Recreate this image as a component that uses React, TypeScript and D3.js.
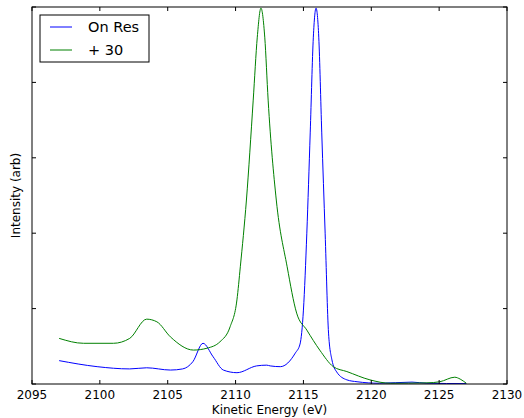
import React from "react";
import * as d3 from "d3";

const xTicks = [2095, 2100, 2105, 2110, 2115, 2120, 2125, 2130];
const yTicks = [0, 20, 40, 60, 80, 100];

const onResE = [2097.0, 2099.8, 2102.2, 2103.45, 2105.2, 2106.1, 2106.85, 2107.6, 2108.35, 2109.1, 2110.1, 2111.55, 2112.3, 2112.55, 2113.3, 2114.4, 2114.75, 2115.0, 2115.25, 2115.5, 2115.73, 2115.93, 2116.13, 2116.35, 2116.6, 2116.85, 2117.1, 2117.45, 2118.2, 2118.95, 2120.6, 2123.0, 2124.1, 2127.0];
const onResI = [6.2, 4.6, 4.0, 4.3, 3.7, 4.0, 5.9, 10.8, 7.2, 3.7, 3.0, 4.8, 5.0, 4.8, 4.6, 8.2, 10.6, 19.6, 40, 66.6, 92, 99.7, 92, 66.6, 40, 13.5, 6.4, 3.2, 1.1, 0.6, 0.2, 0.5, 0.2, 0.1];

const plus30E = [2097.0, 2098.8, 2101.0, 2102.2, 2103.45, 2104.2, 2105.2, 2106.9, 2107.9, 2108.85, 2109.6, 2110.1, 2110.35, 2110.8, 2111.3, 2111.6, 2111.87, 2112.15, 2112.4, 2113.0, 2113.8, 2114.5, 2115.25, 2116.2, 2117.2, 2118.2, 2119.9, 2121.4, 2124.1, 2125.05, 2126.15, 2126.55, 2127.0];
const plus30I = [12.1, 10.8, 10.8, 12.1, 17.2, 16.5, 12.5, 9.0, 9.5, 11.2, 15.2, 22.3, 31.1, 48.8, 75.3, 92, 99.7, 92, 75.3, 48.8, 31.1, 18.8, 14.3, 9.0, 4.6, 3.3, 1.1, 0.2, 0.3, 0.6, 1.8, 1.3, 0.2];

const seriesNames = ["On Res", "+ 30"];
const seriesColors = ["#0000ff", "#008000"];

export default function App() {
  const W = 524, H = 418;
  const L = 32, R = 507, T = 7, B = 384;
  const x = d3.scaleLinear().domain([2095, 2130]).range([L, R]);
  const y = d3.scaleLinear().domain([0, 100]).range([B, T]);
  const line = d3
    .line<[number, number]>()
    .x((d) => x(d[0]))
    .y((d) => y(d[1]))
    .curve(d3.curveMonotoneX);
  const s1 = onResE.map((e, i) => [e, onResI[i]] as [number, number]);
  const s2 = plus30E.map((e, i) => [e, plus30I[i]] as [number, number]);
  const font = "DejaVu Sans, sans-serif";
  const tk = 4;
  return (
    <svg width={W} height={H} style={{ position: "absolute", left: 0, top: 0, background: "#fff" }}>
      <rect x={0} y={0} width={W} height={H} fill="#fff" />
      <defs>
        <clipPath id="plot">
          <rect x={L} y={T} width={R - L} height={B - T} />
        </clipPath>
      </defs>
      <g clipPath="url(#plot)" fill="none" strokeWidth={1}>
        <path d={line(s1) || ""} stroke={seriesColors[0]} />
        <path d={line(s2) || ""} stroke={seriesColors[1]} />
      </g>
      <rect x={L} y={T} width={R - L} height={B - T} fill="none" stroke="#000" strokeWidth={1} />
      {xTicks.map((t) => (
        <g key={"x" + t}>
          <line x1={x(t)} x2={x(t)} y1={B} y2={B - tk} stroke="#000" />
          <line x1={x(t)} x2={x(t)} y1={T} y2={T + tk} stroke="#000" />
          <text x={x(t)} y={399} textAnchor="middle" fontFamily={font} fontSize={12}>
            {t}
          </text>
        </g>
      ))}
      {yTicks.map((t) => (
        <g key={"y" + t}>
          <line x1={L} x2={L + tk} y1={y(t)} y2={y(t)} stroke="#000" />
          <line x1={R} x2={R - tk} y1={y(t)} y2={y(t)} stroke="#000" />
        </g>
      ))}
      <text x={(L + R) / 2} y={414} textAnchor="middle" fontFamily={font} fontSize={12}>
        Kinetic Energy (eV)
      </text>
      <text
        transform={`translate(19.5,${(T + B) / 2}) rotate(-90)`}
        textAnchor="middle"
        fontFamily={font}
        fontSize={12}
      >
        Intensity (arb)
      </text>
      <g>
        <rect x={40} y={15} width={109} height={47} fill="#fff" stroke="#000" strokeWidth={1} />
        {seriesNames.map((n, i) => (
          <g key={n}>
            <line x1={50} x2={72} y1={27 + i * 23} y2={27 + i * 23} stroke={seriesColors[i]} strokeWidth={1} />
            <text x={88} y={27 + i * 23 + 5} fontFamily={font} fontSize={14.5}>
              {n}
            </text>
          </g>
        ))}
      </g>
    </svg>
  );
}
